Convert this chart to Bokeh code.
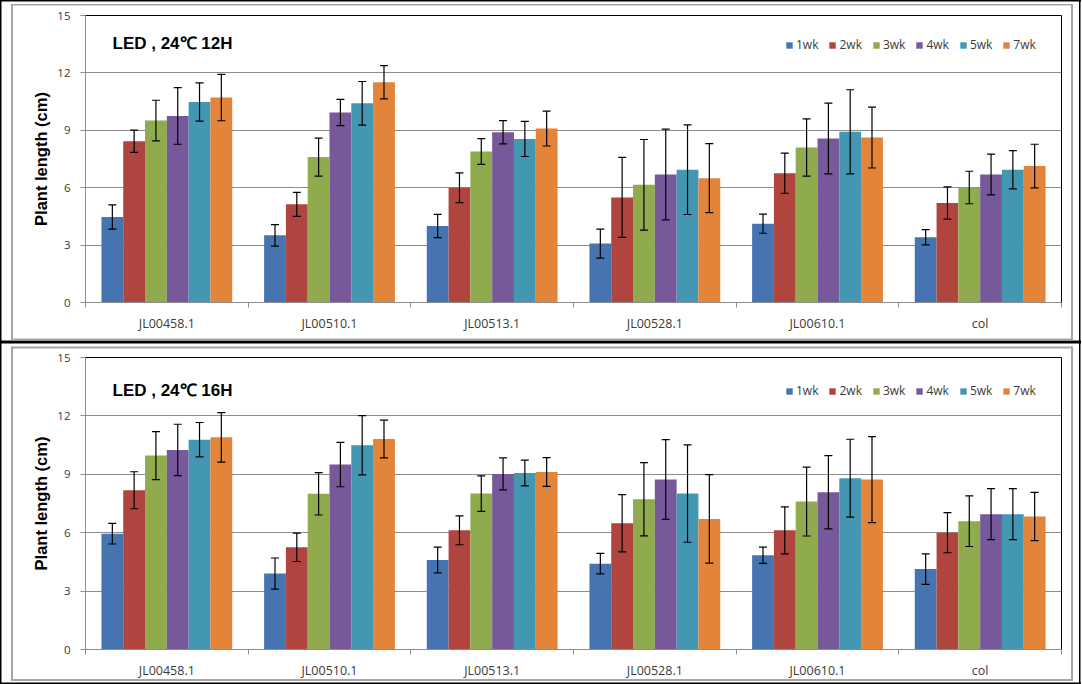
from bokeh.plotting import figure
from bokeh.models import (Range1d, ColumnDataSource, Whisker, TeeHead, Label,
                          LinearAxis, FixedTicker, Legend, LegendItem)
from bokeh.layouts import column
from bokeh.embed import file_html
from bokeh.resources import INLINE

# ---------------- data ----------------
groups = ["JL00458.1", "JL00510.1", "JL00513.1", "JL00528.1", "JL00610.1", "col"]
weeks = ["1wk", "2wk", "3wk", "4wk", "5wk", "7wk"]
colors = ["#4674B0", "#B0443F", "#8FAB4E", "#77589A", "#4397B2", "#E3843B"]
yticks = [0, 3, 6, 9, 12, 15]

title_12h = "LED , 24\u2103 12H"
title_16h = "LED , 24\u2103 16H"

# 12H panel: means and error (+/-) per week, across groups
h12_1wk = [4.47, 3.51, 4.00, 3.08, 4.12, 3.41]
h12_2wk = [8.43, 5.13, 6.00, 5.49, 6.76, 5.20]
h12_3wk = [9.51, 7.60, 7.89, 6.15, 8.10, 6.01]
h12_4wk = [9.75, 9.93, 8.90, 6.69, 8.57, 6.69]
h12_5wk = [10.48, 10.41, 8.55, 6.94, 8.92, 6.94]
h12_7wk = [10.71, 11.51, 9.09, 6.50, 8.62, 7.13]
h12_1wk_err = [0.63, 0.56, 0.61, 0.76, 0.50, 0.40]
h12_2wk_err = [0.58, 0.63, 0.78, 2.09, 1.05, 0.84]
h12_3wk_err = [1.06, 0.99, 0.67, 2.37, 1.50, 0.85]
h12_4wk_err = [1.48, 0.69, 0.61, 2.37, 1.85, 1.07]
h12_5wk_err = [1.00, 1.14, 0.92, 2.34, 2.20, 1.00]
h12_7wk_err = [1.21, 0.87, 0.91, 1.80, 1.59, 1.14]

# 16H panel
h16_1wk = [5.95, 3.90, 4.60, 4.41, 4.84, 4.13]
h16_2wk = [8.18, 5.25, 6.12, 6.49, 6.12, 6.00]
h16_3wk = [9.96, 8.00, 8.01, 7.72, 7.60, 6.59]
h16_4wk = [10.25, 9.50, 9.02, 8.73, 8.08, 6.95]
h16_5wk = [10.78, 10.49, 9.07, 8.01, 8.80, 6.95]
h16_7wk = [10.90, 10.81, 9.12, 6.71, 8.73, 6.83]
h16_1wk_err = [0.53, 0.80, 0.66, 0.53, 0.42, 0.78]
h16_2wk_err = [0.95, 0.73, 0.74, 1.47, 1.21, 1.03]
h16_3wk_err = [1.23, 1.09, 0.91, 1.88, 1.77, 1.30]
h16_4wk_err = [1.32, 1.14, 0.82, 2.05, 1.88, 1.31]
h16_5wk_err = [0.88, 1.52, 0.66, 2.50, 2.00, 1.31]
h16_7wk_err = [1.27, 0.97, 0.74, 2.27, 2.21, 1.24]

# ---------------- layout ----------------
W = 1082
H = 342
FRAME_L = 85
FRAME_R = 1061
TICK_FONT = "Open Sans"
GRID = "#8C8C8C"
TXT = "#3A3A3A"
BAR_W = 0.134


def svg_bg(lines):
    parts = "".join(
        "<rect x='%s' y='%s' width='%s' height='%s' fill='%s'/>" % ln for ln in lines)
    svg = ("<svg xmlns='http://www.w3.org/2000/svg' width='%d' height='%d'>%s</svg>"
           % (W, H, parts))
    return 'url("data:image/svg+xml;utf8,%s")' % svg


def make_panel(title, means, errs, border_top, border_bottom, title_y, legend_y, frame_lines):
    ng = len(groups)
    p = figure(width=W, height=H, x_range=Range1d(0, ng), y_range=Range1d(0, 15),
               output_backend="svg", toolbar_location=None, x_axis_location=None,
               min_border_left=FRAME_L, min_border_right=W - FRAME_R,
               min_border_top=border_top, min_border_bottom=border_bottom,
               background_fill_color=None, border_fill_color=None,
               outline_line_color="black", outline_line_width=1)
    p.styles = {"background-color": "white",
                "background-image": svg_bg(frame_lines),
                "background-repeat": "no-repeat"}

    # y axis
    ya = p.yaxis[0]
    ya.ticker = FixedTicker(ticks=yticks)
    ya.axis_line_color = GRID
    ya.major_tick_line_color = GRID
    ya.major_tick_out = 5
    ya.major_tick_in = 0
    ya.minor_tick_line_color = None
    ya.major_label_text_font = TICK_FONT
    ya.major_label_text_font_size = "11.5px"
    ya.major_label_text_color = TXT
    ya.major_label_standoff = 10
    ya.axis_label = "Plant length (cm)"
    ya.axis_label_text_font = "Liberation Sans"
    ya.axis_label_text_font_style = "bold"
    ya.axis_label_text_font_size = "16.5px"
    ya.axis_label_text_color = "black"
    ya.axis_label_standoff = 4

    p.xgrid.visible = False
    p.ygrid.grid_line_color = GRID
    p.ygrid.grid_line_width = 1

    # bottom axis: tick marks on group boundaries
    bt = list(range(ng + 1))
    ab = LinearAxis(ticker=FixedTicker(ticks=bt),
                    major_label_overrides={t: "" for t in bt},
                    major_label_text_font_size="1px", major_label_standoff=0,
                    major_tick_out=5, major_tick_in=0, minor_tick_line_color=None,
                    axis_line_color=GRID, major_tick_line_color=GRID)
    p.add_layout(ab, "below")
    # group names at group centres
    centres = [k + 0.5 for k in range(ng)]
    ac = LinearAxis(ticker=FixedTicker(ticks=centres),
                    major_label_overrides={c: g for c, g in zip(centres, groups)},
                    axis_line_color=None, major_tick_line_color=None,
                    minor_tick_line_color=None,
                    major_tick_out=0, major_tick_in=0,
                    major_label_text_font=TICK_FONT,
                    major_label_text_font_size="12.5px",
                    major_label_text_color=TXT, major_label_standoff=7)
    p.add_layout(ac, "below")

    items = []
    n = len(weeks)
    for i, wk in enumerate(weeks):
        off = (i - (n - 1) / 2) * BAR_W
        m = means[i]
        e = errs[i]
        src = ColumnDataSource(dict(x=[k + 0.5 + off for k in range(ng)], v=m,
                                    up=[a + b for a, b in zip(m, e)],
                                    lo=[a - b for a, b in zip(m, e)]))
        r = p.vbar(x="x", top="v", width=BAR_W,
                   source=src, fill_color=colors[i], line_color=None)
        items.append(LegendItem(label=wk, renderers=[r]))
        w = Whisker(base="x", upper="up", lower="lo", source=src, level="overlay",
                    line_color="black", line_width=1.2,
                    upper_head=TeeHead(size=8, line_color="black", line_width=1.2),
                    lower_head=TeeHead(size=8, line_color="black", line_width=1.2))
        p.add_layout(w)

    leg = Legend(items=items, orientation="horizontal", location=(700, legend_y),
                 glyph_width=8, glyph_height=8, label_standoff=3, spacing=10,
                 padding=0, margin=0, label_height=16, label_width=10,
                 background_fill_alpha=0, border_line_color=None,
                 label_text_font=TICK_FONT, label_text_font_size="12px",
                 label_text_color=TXT)
    p.add_layout(leg)

    p.add_layout(Label(x=27, y=title_y, x_units="screen", y_units="screen",
                       text=title, text_font="Liberation Sans", text_font_style="bold",
                       text_font_size="17px", text_color="black",
                       text_baseline="middle"))
    return p


GRAY = "rgb(166,166,166)"
BLACK = "rgb(0,0,0)"
# (x, y, width, height, colour) of the chart-area (gray) and panel (black) border strips
top_lines = [(0, 0, 1081, 1.5, BLACK), (0, 0, 1.5, H, BLACK), (1079, 0, 1.5, H, BLACK),
             (0, 340.5, 1081, 1.5, BLACK),
             (11, 4, 2, 336, GRAY), (1071, 4, 2, 336, GRAY),
             (11, 4, 1062, 1.5, GRAY), (11, 338.5, 1062, 2, GRAY)]
bottom_lines = [(0, 0, 1081, 1.5, BLACK), (0, 0, 1.5, H, BLACK), (1079, 0, 1.5, H, BLACK),
                (0, 340.5, 1081, 1.5, BLACK),
                (11, 4.5, 2, 334, GRAY), (1071, 4.5, 2, 334, GRAY),
                (11, 4.5, 1062, 2, GRAY), (11, 337, 1062, 2, GRAY)]

p1 = make_panel(title_12h,
                [h12_1wk, h12_2wk, h12_3wk, h12_4wk, h12_5wk, h12_7wk],
                [h12_1wk_err, h12_2wk_err, h12_3wk_err, h12_4wk_err, h12_5wk_err, h12_7wk_err],
                border_top=15, border_bottom=40, title_y=259, legend_y=249,
                frame_lines=top_lines)
p2 = make_panel(title_16h,
                [h16_1wk, h16_2wk, h16_3wk, h16_4wk, h16_5wk, h16_7wk],
                [h16_1wk_err, h16_2wk_err, h16_3wk_err, h16_4wk_err, h16_5wk_err, h16_7wk_err],
                border_top=15, border_bottom=35, title_y=259, legend_y=250,
                frame_lines=bottom_lines)

layout = column(p1, p2, spacing=0)
open("out.html", "w").write(file_html(layout, INLINE))
